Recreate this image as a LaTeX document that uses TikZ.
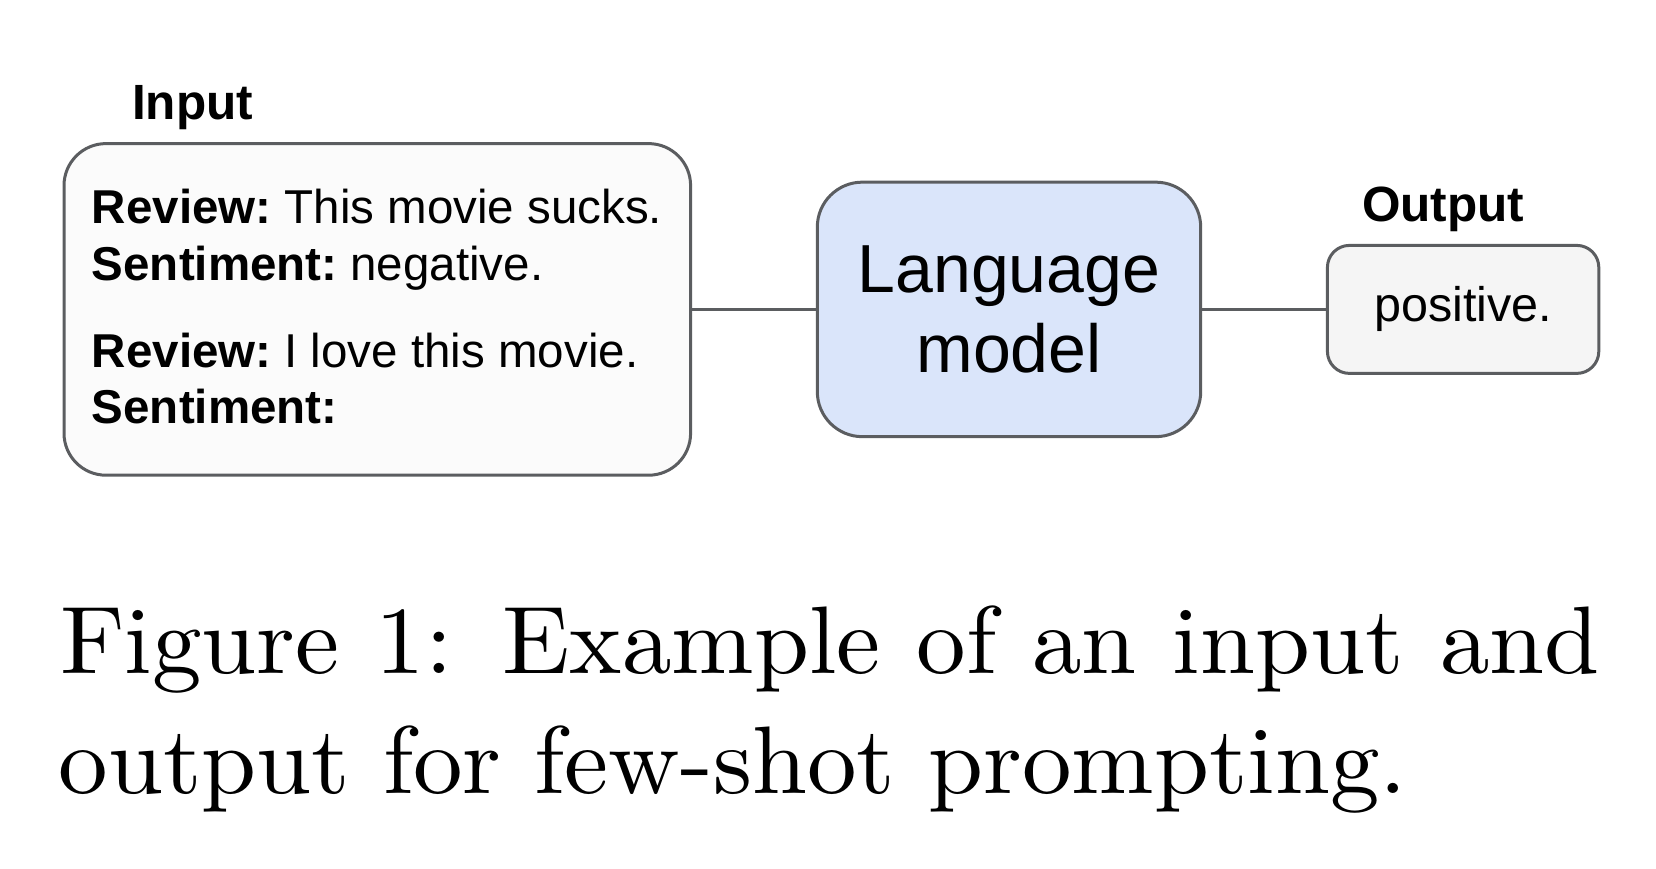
\documentclass[tikz,border=0pt]{standalone}
\usepackage{fontspec}
\newfontfamily\gsans{Liberation Sans}
\definecolor{edgegray}{HTML}{5B5D60}
\definecolor{infill}{HTML}{FBFBFB}
\definecolor{lmfill}{HTML}{DAE5FA}
\definecolor{outfill}{HTML}{F5F5F5}
\begin{document}
\begin{tikzpicture}[x=1pt,y=-1pt,
  box/.style={draw=edgegray, line width=3pt, inner sep=0pt},
  body/.style={anchor=base west, inner sep=0pt, font=\gsans\frenchspacing\fontsize{47.5}{57}\selectfont},
  lbl/.style={anchor=base west, inner sep=0pt, font=\gsans\bfseries\fontsize{49.5}{60}\selectfont},
  conn/.style={draw=edgegray, line width=3pt},
  captext/.style={anchor=base west, inner sep=0pt}]
\useasboundingbox (0,0) rectangle (1656,869);
% boxes
\node[box, fill=infill, rounded corners=42pt, minimum width=626.6pt, minimum height=331.6pt] (inbox) at (377.3,309.4) {};
\node[box, fill=lmfill, rounded corners=45pt, minimum width=383.4pt, minimum height=254.5pt,
      align=center, font=\gsans\fontsize{68}{80}\selectfont] (lm) at (1009,309.4) {Language\\model};
\node[box, fill=outfill, rounded corners=22pt, minimum width=271.4pt, minimum height=128pt,
      font=\gsans\fontsize{48.5}{58}\selectfont] (out) at (1463.1,309.4) {positive.};
% labels
\node[lbl] (inlabel) at (132,119.3) {Input};
\node[lbl] (outlabel) at (1362,222) {Output};
% input text
\node[body] (r1) at (91.7,223.3) {\textbf{Review:} This movie sucks.};
\node[body] (s1) at (91.7,280) {\textbf{Sentiment:} negative.};
\node[body] (r2) at (91.7,367.3) {\textbf{Review:} I love this movie.};
\node[body] (s2) at (91.7,423.3) {\textbf{Sentiment:}};
% connectors
\draw[conn] (inbox.east) -- (lm.west);
\draw[conn] (lm.east) -- (out.west);
% caption
\node[captext] (cap1) at (60,673.3) {\scalebox{9.9}[9.6]{\makebox[155.5pt][s]{Figure 1: Example of an input and}}};
\node[captext] (cap2) at (58.3,793.3) {\scalebox{9.9}[9.6]{output for few-shot prompting.}};
\end{tikzpicture}
\end{document}
